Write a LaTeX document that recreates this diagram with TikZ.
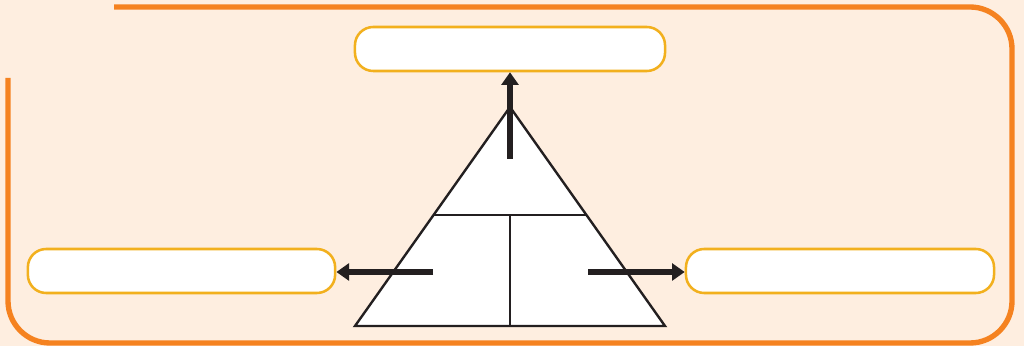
\documentclass[tikz,border=0pt]{standalone}
\usepackage{tikz}
\usetikzlibrary{arrows.meta,calc}
\usepackage{xcolor}
\definecolor{peach}{RGB}{254,238,224}
\definecolor{frame}{RGB}{245,130,32}
\definecolor{gold}{RGB}{242,176,30}
\definecolor{ink}{RGB}{35,31,32}

\tikzset{
    answerbox/.style={draw=gold, line width=1.8pt, fill=white, rounded corners=13pt,
        minimum height=1.1cm, inner sep=0pt},
    bigarrow/.style={draw=ink, line width=4pt, -{Triangle[length=9pt, width=12pt]}},
}

\begin{document}
\begin{tikzpicture}[x=0.025cm, y=-0.025cm]
    % background and frame
    \fill[peach] (0,0) rectangle (1024,346);
    \useasboundingbox (0,0) rectangle (1024,346);
    \draw[frame, line width=3.8pt, rounded corners=1.05cm]
        (114,7) -- (1012,7) -- (1012,343) -- (8,343) -- (8,78);
    % the three boxes
    \node[answerbox, minimum width=7.75cm] (top) at (510,49) {};
    \node[answerbox, minimum width=7.68cm] (left) at (181.5,271) {};
    \node[answerbox, minimum width=7.7cm] (right) at (840,271) {};
    % triangle
    \draw[ink, fill=white, line width=1.7pt] (510,107) -- (665,326) -- (355,326) -- cycle;
    \draw[ink, line width=1.7pt] (433.6,215) -- (586.4,215);
    \draw[ink, line width=1.7pt] (510,215) -- (510,326);
    % arrows
    \coordinate (upstart) at (510,159);
    \coordinate (leftstart) at (433,272);
    \coordinate (rightstart) at (588,272);
    \draw[bigarrow] (upstart) -- (top.south);
    \draw[bigarrow] (leftstart) -- (leftstart -| left.east);
    \draw[bigarrow] (rightstart) -- (rightstart -| right.west);
\end{tikzpicture}
\end{document}
